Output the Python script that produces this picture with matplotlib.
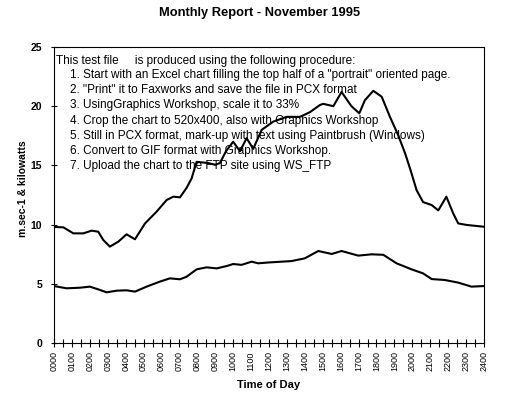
import matplotlib.pyplot as plt
import numpy as np

plt.rcParams['font.family'] = ['Liberation Sans', 'DejaVu Sans']

# hours of day, with values
upper_h = [0.0, 0.52, 1.08, 1.64, 2.1, 2.47, 2.75, 3.12, 3.59, 4.05, 4.52, 5.08,
           5.73, 6.29, 6.66, 7.03, 7.4, 7.68, 7.96, 8.61, 9.0, 9.26, 9.6, 10.0,
           10.38, 10.75, 11.12, 11.59, 12.24, 12.98, 13.73, 14.29, 14.84, 15.03,
           15.59, 16.05, 16.6, 17.04, 17.35, 17.82, 18.29, 18.75, 19.2, 19.6,
           19.9, 20.24, 20.6, 21.08, 21.45, 21.9, 22.28, 22.56, 23.03, 24.0]
upper_v = [9.8, 9.77, 9.26, 9.26, 9.49, 9.4, 8.7, 8.14, 8.56, 9.18, 8.76, 10.1,
           11.1, 12.08, 12.36, 12.3, 13.1, 13.9, 15.3, 15.2, 15.05, 15.2, 16.2, 17.0,
           16.2, 17.3, 16.4, 18.0, 18.7, 19.1, 19.1, 19.5, 20.1, 20.2,
           20.0, 21.2, 20.0, 19.4, 20.5, 21.3, 20.8, 19.1, 17.6, 16.0,
           14.6, 12.9, 11.9, 11.65, 11.2, 12.36, 10.95, 10.1, 9.97, 9.82]

lower_h = [0.0, 0.7, 1.45, 2.0, 2.47, 2.94, 3.5, 4.05, 4.52, 5.17, 5.9, 6.47,
           7.03, 7.4, 7.96, 8.52, 9.08, 9.64, 10.0, 10.47, 11.03, 11.4, 11.96,
           13.26, 14.0, 14.75, 15.5, 16.05, 16.98, 17.73, 18.38, 19.12, 19.96,
           20.6, 21.08, 21.82, 22.56, 23.3, 24.0]
lower_v = [4.81, 4.62, 4.67, 4.76, 4.53, 4.28, 4.42, 4.45, 4.34, 4.76, 5.18, 5.46,
           5.38, 5.6, 6.22, 6.39, 6.3, 6.5, 6.67, 6.6, 6.87, 6.73, 6.8,
           6.92, 7.15, 7.77, 7.52, 7.77, 7.38, 7.49, 7.45, 6.73, 6.22,
           5.88, 5.4, 5.32, 5.1, 4.76, 4.81]

hour_labels = ['%02d00' % h for h in range(25)]
y_ticks = [0, 5, 10, 15, 20, 25]

note_head = 'This test file     is produced using the following procedure:'
note_lines = [
    '1. Start with an Excel chart filling the top half of a "portrait" oriented page.',
    '2. "Print" it to Faxworks and save the file in PCX format',
    '3. UsingGraphics Workshop, scale it to 33%',
    '4. Crop the chart to 520x400, also with Graphics Workshop',
    '5. Still in PCX format, mark-up with text using Paintbrush (Windows)',
    '6. Convert to GIF format with Graphics Workshop.',
    '7. Upload the chart to the FTP site using WS_FTP',
]

W, H = 519, 399
fig = plt.figure(figsize=(W / 100, H / 100), dpi=100)
ax = fig.add_axes([54 / W, 1 - 343 / H, 430 / W, 296 / H])

ax.plot(upper_h, upper_v, color='black', lw=1.5)
ax.plot(lower_h, lower_v, color='black', lw=1.5)

ax.set_xlim(0, 24)
ax.set_ylim(0, 25)
ax.set_xticks(range(25))
ax.set_xticklabels(hour_labels, rotation=90, fontsize=6.5)
ax.set_xticks(np.arange(0.5, 24, 1), minor=True)
ax.tick_params(axis='x', which='both', direction='inout', length=6, width=0.8, pad=3)
ax.set_yticks(y_ticks)
ax.set_yticklabels([str(v) for v in y_ticks], fontsize=7.5, fontweight='bold')
ax.tick_params(axis='y', direction='inout', length=5, width=0.8, pad=6)
for s in ax.spines.values():
    s.set_linewidth(0.8)

ax.set_xlabel('Time of Day', fontsize=8, fontweight='bold', labelpad=6)
ax.set_ylabel('m.sec-1 & kilowatts', fontsize=7.5, fontweight='bold')
ax.yaxis.set_label_coords(-0.06, 0.52)
fig.text(0.5, 1 - 13 / H, 'Monthly Report - November 1995', ha='center', va='center',
         fontsize=9.3, fontweight='bold')

fig.text(56 / W, 1 - 61 / H, note_head, ha='left', va='center', fontsize=8.5)
for i, line in enumerate(note_lines):
    fig.text(70 / W, 1 - (75 + 15.2 * i) / H, line, ha='left', va='center', fontsize=8.5)

fig.savefig('out.png', dpi=100)
